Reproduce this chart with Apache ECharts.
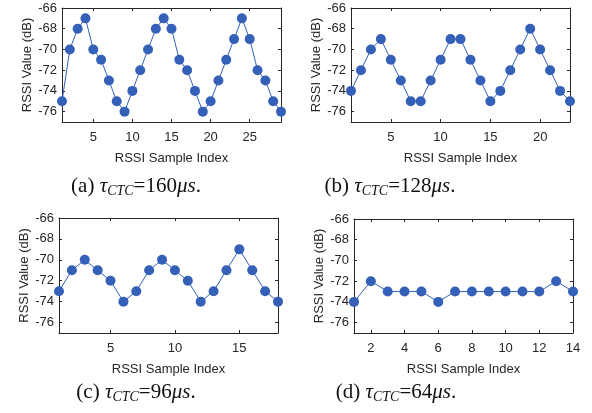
<!DOCTYPE html>
<html>
<head>
<meta charset="utf-8">
<script src="https://cdn.jsdelivr.net/npm/echarts@6/dist/echarts.min.js"></script>
<style>html,body{margin:0;padding:0;background:#fff;}#c{width:592px;height:413px;}</style>
</head>
<body>
<div id="c"></div>
<script>
// ---- data ----
const rssiA = [-75,-70,-68,-67,-70,-71,-73,-75,-76,-74,-72,-70,-68,-67,-68,-71,-72,-74,-76,-75,-73,-71,-69,-67,-69,-72,-73,-75,-76];
const rssiB = [-74,-72,-70,-69,-71,-73,-75,-75,-73,-71,-69,-69,-71,-73,-75,-74,-72,-70,-68,-70,-72,-74,-75];
const rssiC = [-73,-71,-70,-71,-72,-74,-73,-71,-70,-71,-72,-74,-73,-71,-69,-71,-73,-74];
const rssiD = [-74,-72,-73,-73,-73,-74,-73,-73,-73,-73,-73,-73,-72,-73];
const yTicks = [-76,-74,-72,-70,-68,-66];
const xTicksA = [5,10,15,20,25];
const xTicksB = [5,10,15,20];
const xTicksC = [5,10,15];
const xTicksD = [2,4,6,8,10,12,14];
const captions = [
  ['(a) ', '160'],
  ['(b) ', '128'],
  ['(c) ', '96'],
  ['(d) ', '64']
];
const yName = 'RSSI Value (dB)';
const xName = 'RSSI Sample Index';

// ---- layout ----
const grids = [
  {left: 62, top: 8, width: 219, height: 114},
  {left: 351, top: 8, width: 219, height: 114},
  {left: 59, top: 218, width: 219, height: 115},
  {left: 354, top: 219, width: 219, height: 114}
];
const panels = [
  {data: rssiA, ticks: xTicksA},
  {data: rssiB, ticks: xTicksB},
  {data: rssiC, ticks: xTicksC},
  {data: rssiD, ticks: xTicksD}
];
const axisColor = '#262626';
const blue = '#3560b8';
const font = 'Liberation Sans, Arial, sans-serif';

const xAxes = [], yAxes = [], series = [];
panels.forEach((p, i) => {
  const n = p.data.length;
  const tickCommon = {show: true, inside: true, length: 3, lineStyle: {color: axisColor, width: 1}};
  xAxes.push({
    type: 'value', gridIndex: i, min: 1, max: n, position: 'bottom',
    axisLine: {show: true, onZero: false, lineStyle: {color: axisColor, width: 1}},
    axisTick: Object.assign({customValues: p.ticks}, tickCommon),
    axisLabel: {customValues: p.ticks, color: axisColor, fontFamily: font, fontSize: 13, margin: 9},
    splitLine: {show: false},
    name: xName, nameLocation: 'middle', nameGap: 30,
    nameTextStyle: {color: axisColor, fontFamily: font, fontSize: 13}
  });
  xAxes.push({
    type: 'value', gridIndex: i, min: 1, max: n, position: 'top',
    axisLine: {show: true, onZero: false, lineStyle: {color: axisColor, width: 1}},
    axisTick: Object.assign({customValues: p.ticks}, tickCommon),
    axisLabel: {show: false}, splitLine: {show: false}
  });
  yAxes.push({
    type: 'value', gridIndex: i, min: -77, max: -66, position: 'left',
    axisLine: {show: true, onZero: false, lineStyle: {color: axisColor, width: 1}},
    axisTick: Object.assign({customValues: yTicks}, tickCommon),
    axisLabel: {customValues: yTicks, color: axisColor, fontFamily: font, fontSize: 13, margin: 5},
    splitLine: {show: false},
    name: yName, nameLocation: 'middle', nameGap: 26,
    nameTextStyle: {color: axisColor, fontFamily: font, fontSize: 13}
  });
  yAxes.push({
    type: 'value', gridIndex: i, min: -77, max: -66, position: 'right',
    axisLine: {show: true, onZero: false, lineStyle: {color: axisColor, width: 1}},
    axisTick: Object.assign({customValues: yTicks}, tickCommon),
    axisLabel: {show: false}, splitLine: {show: false}
  });
  series.push({
    type: 'line', xAxisIndex: i * 2, yAxisIndex: i * 2,
    data: p.data.map((v, k) => [k + 1, v]),
    symbol: 'circle', symbolSize: 10, showSymbol: true,
    lineStyle: {color: blue, width: 1},
    itemStyle: {color: blue},
    clip: false, animation: false
  });
});

const capPos = [[136, 186], [390, 186], [136, 392], [396, 392]];
const serif = 'Liberation Serif, Times New Roman, serif';
const graphic = captions.map((c, i) => ({
  type: 'text', x: capPos[i][0], y: capPos[i][1],
  style: {
    text: c[0] + '{i|τ}{s|CTC}=' + c[1] + '{i|μs}.',
    fontFamily: serif, fontSize: 21, fill: '#111',
    align: 'center', verticalAlign: 'middle',
    rich: {
      i: {fontFamily: serif, fontSize: 21, fontStyle: 'italic', fill: '#111'},
      s: {fontFamily: serif, fontSize: 14, fontStyle: 'italic', fill: '#111', padding: [10, 0, 0, 0]}
    }
  }
}));

const chart = echarts.init(document.getElementById('c'), null, {renderer: 'canvas'});
chart.setOption({
  animation: false,
  backgroundColor: '#fff',
  grid: grids,
  xAxis: xAxes,
  yAxis: yAxes,
  series: series,
  graphic: graphic
});
</script>
</body>
</html>
